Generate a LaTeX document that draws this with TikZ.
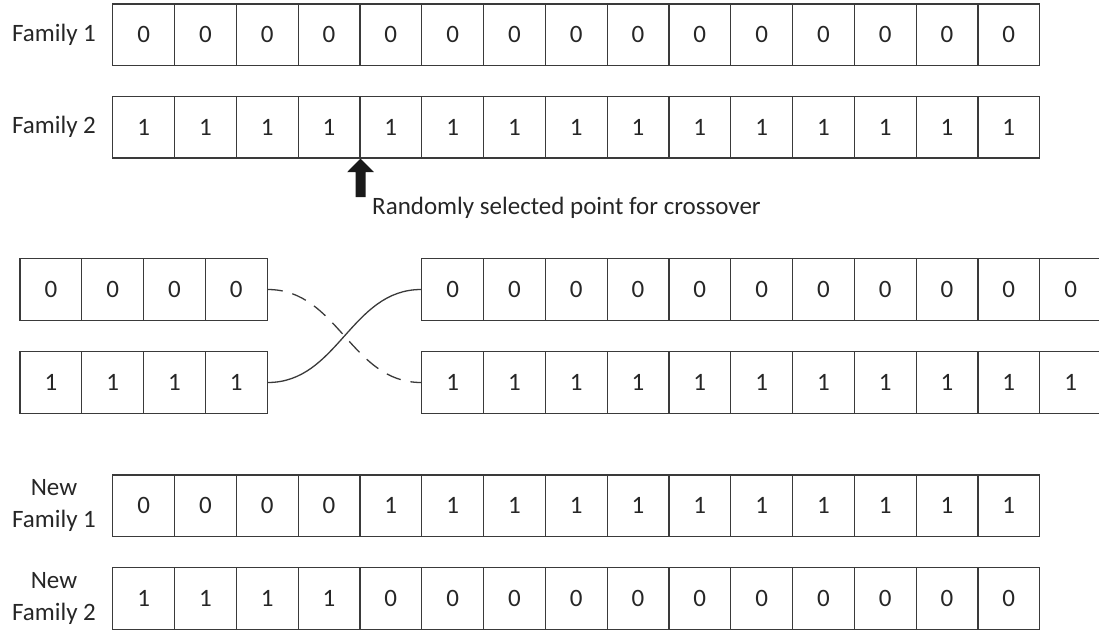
\documentclass[tikz,border=0pt]{standalone}
\usepackage{fontspec}
\setmainfont{Carlito}
\definecolor{ln}{HTML}{3A3A3A}
\definecolor{tx}{HTML}{262626}
\begin{document}
\begin{tikzpicture}[x=1pt,y=-1pt,
  cell/.style={draw=ln,line width=1.2pt,minimum width=61.8pt,minimum height=61.5pt,
    inner sep=0pt,text=tx,font=\fontsize{25}{30}\selectfont},
  lbl/.style={text=tx,align=center,inner sep=0pt,font=\fontsize{25}{32}\selectfont},
  link/.style={draw=ln,line width=1.3pt,out=0,in=180}]
\useasboundingbox (0,0) rectangle (1099,632);
\clip (0,0) rectangle (1099,632);
% row 1 and 2
\foreach \i in {0,...,14} {
  \node[cell] (a\i) at (143.6+61.8*\i,34.7) {0};
  \node[cell] (b\i) at (143.6+61.8*\i,127.3) {1};
}
\node[lbl] (f1) at (54,34.7) {Family 1};
\node[lbl] (f2) at (54,127.3) {Family 2};
% crossover arrow
\coordinate (tip) at (b3.south east);
\fill[black!90] (tip) -- ++(13.3,13.4) -- ++(-8.3,0) -- ++(0,25) -- ++(-10,0)
  -- ++(0,-25) -- ++(-8.3,0) -- cycle;
\node[lbl,anchor=west] (note) at (372,208) {Randomly selected point for crossover};
% rows 3 and 4
\foreach \i in {0,...,3} {
  \node[cell] (l3\i) at (50.9+61.8*\i,289.5) {0};
  \node[cell] (l4\i) at (50.9+61.8*\i,382.5) {1};
}
\foreach \i in {0,...,10} {
  \node[cell] (r3\i) at (452.6+61.8*\i,289.5) {0};
  \node[cell] (r4\i) at (452.6+61.8*\i,382.5) {1};
}
\draw[link] (l43.east) to (r30.west);
\draw[link,dash pattern=on 15pt off 10pt] (l33.east) to (r40.west);
% rows 5 and 6
\foreach \i in {0,...,3} {
  \node[cell] (c\i) at (143.6+61.8*\i,505.8) {0};
  \node[cell] (d\i) at (143.6+61.8*\i,598.5) {1};
}
\foreach \i in {4,...,14} {
  \node[cell] (c\i) at (143.6+61.8*\i,505.8) {1};
  \node[cell] (d\i) at (143.6+61.8*\i,598.5) {0};
}
\node[lbl] (n1) at (54,505.8) {New\\Family 1};
\node[lbl] (n2) at (54,598.5) {New\\Family 2};
\end{tikzpicture}
\end{document}
